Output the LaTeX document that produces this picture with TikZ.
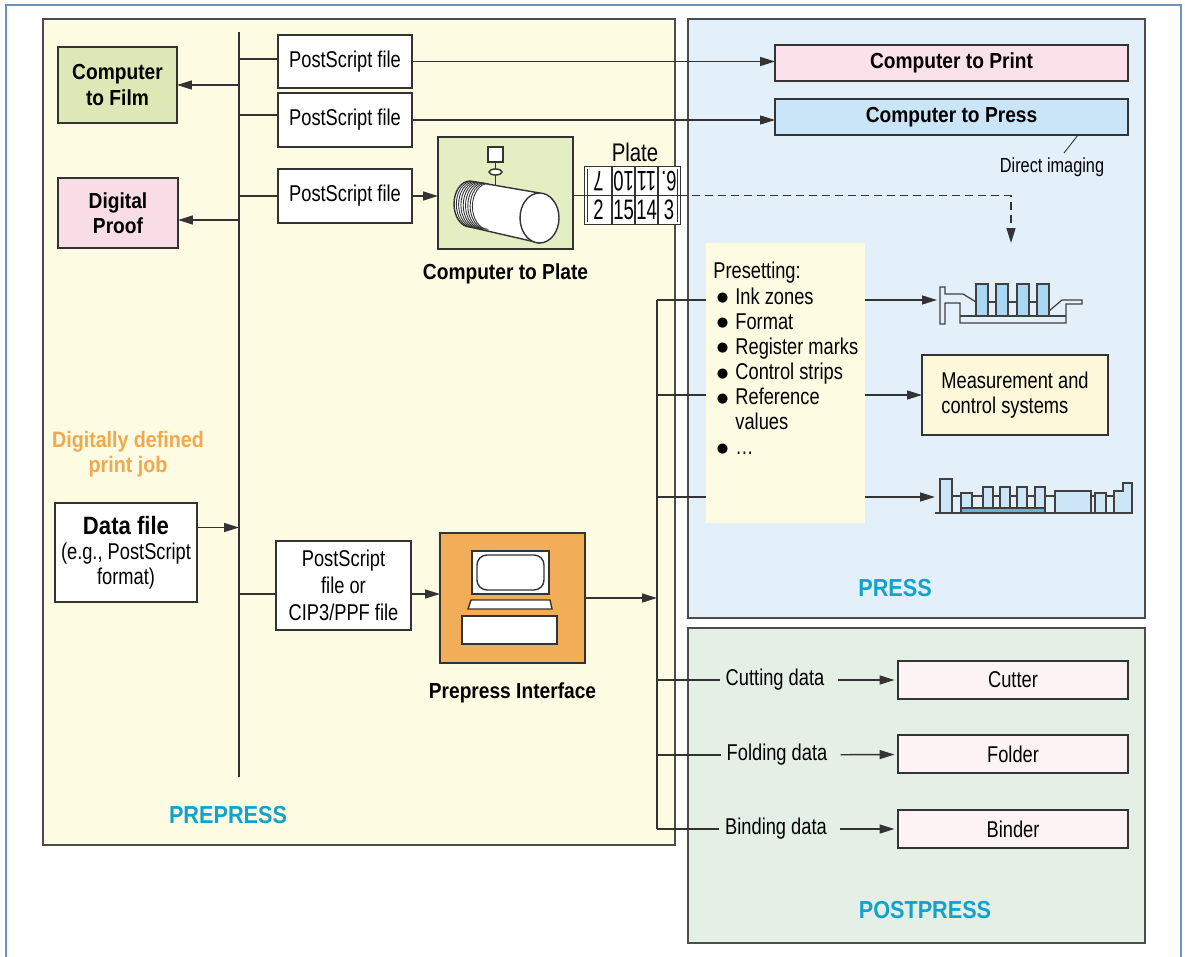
\documentclass[tikz,border=0pt]{standalone}
\usepackage{fontspec}
\setmainfont{Liberation Sans}[FakeStretch=0.8,BoldFeatures={FakeStretch=0.88}]
\newfontfamily\dotfont{DejaVu Sans}
\usetikzlibrary{arrows.meta,positioning,calc}

\definecolor{framecol}{HTML}{6E93B4}
\definecolor{linegray}{HTML}{333333}
\definecolor{prefill}{HTML}{FDFBE2}
\definecolor{pressfill}{HTML}{E3F0FA}
\definecolor{postfill}{HTML}{E4EFE6}
\definecolor{filmgreen}{HTML}{DCE9B6}
\definecolor{ctpgreen}{HTML}{E4EEC2}
\definecolor{proofpink}{HTML}{F8DCE6}
\definecolor{printpink}{HTML}{FBE1E9}
\definecolor{presscyan}{HTML}{C9E5F7}
\definecolor{measyellow}{HTML}{FDF8DA}
\definecolor{piorange}{HTML}{F2AD59}
\definecolor{cutpink}{HTML}{FDF2F4}
\definecolor{phaseblue}{HTML}{12A2CC}
\definecolor{joborange}{HTML}{F2A84E}
\definecolor{machblue}{HTML}{A8D8F3}
\definecolor{machlight}{HTML}{CDE6F7}
\definecolor{machbar}{HTML}{5CB8E6}

\newcommand\regtext{\fontsize{13}{14.3}\selectfont}
\newcommand\boldtext{\fontsize{12.4}{14.3}\selectfont\bfseries}
\newcommand\phasetext{\fontsize{14}{16}\selectfont\bfseries}
\newcommand\itemdot{\hspace{2pt}\raisebox{1.3pt}{\dotfont\fontsize{7.5}{8}\selectfont ●}\hspace{4pt}}

\begin{document}
\begin{tikzpicture}[
    x=0.02cm, y=-0.02cm,
    >={Triangle[length=0.3cm,width=0.18cm]},
    font=\regtext,
    lin/.style={draw=linegray, line width=0.8pt},
    arr/.style={lin, ->},
    box/.style={draw=linegray, line width=0.8pt, fill=#1, inner sep=1pt,
                align=center, outer sep=0pt},
    box/.default=white,
    panel/.style={draw=black!70, line width=0.9pt, fill=#1, inner sep=0pt,
                  outer sep=0pt},
    title/.style={font=\boldtext, align=center},
    phase/.style={font=\phasetext, text=phaseblue},
    machine/.style={draw=black!75, line width=0.7pt},
    cell/.style={font=\fontsize{16}{17}\selectfont, inner sep=0pt, transform shape, xscale=0.82},
  ]
  \useasboundingbox (0,0) rectangle (1185,956);
  \draw[framecol, line width=0.8pt] (6,5) rectangle (1181,1000);

  % the three stages
  \node[panel=prefill, minimum width=12.64cm, minimum height=16.52cm] (prepress) at (359,432) {};
  \node[panel=pressfill, minimum width=9.14cm, minimum height=11.98cm] (press) at (916.5,318.5) {};
  \node[panel=postfill, minimum width=9.14cm, minimum height=6.3cm] (postpress) at (916.5,785.5) {};
  \node[phase] (prelbl) at (228,815) {PREPRESS};
  \node[phase] (presslbl) at (895,588) {PRESS};
  \node[phase] (postlbl) at (925,910) {POSTPRESS};

  % data bus
  \coordinate (bustop) at (239,32);
  \coordinate (busbot) at (239,777);
  \draw[lin] (bustop) -- (busbot);

  \node[font=\fontsize{12.7}{14.3}\selectfont\bfseries, text=joborange, align=center]
    (job) at (128,454) {Digitally defined\\print job};

  \node[box=filmgreen, title, minimum width=2.38cm, minimum height=1.52cm] (film) at (117.5,85) {Computer\\to Film};
  \node[box=proofpink, title, minimum width=2.4cm, minimum height=1.4cm] (proof) at (118,213) {Digital\\Proof};
  \node[box, minimum width=2.84cm, minimum height=1.98cm] (data) at (126,552.5)
    {{\fontsize{14.3}{16}\selectfont\bfseries Data file}\\(e.g., PostScript\\format)};

  \node[box, minimum width=2.68cm, minimum height=1.06cm] (ps1) at (345,61.5) {PostScript file};
  \node[box, minimum width=2.68cm, minimum height=1.08cm] (ps2) at (345,120) {PostScript file};
  \node[box, minimum width=2.68cm, minimum height=1.08cm] (ps3) at (345,196) {PostScript file};
  \node[box, font=\fontsize{13}{15.2}\selectfont, minimum width=2.7cm, minimum height=1.78cm] (ps4) at (343.5,585.5)
    {PostScript\\file or\\CIP3/PPF file};

  \draw[arr] (film.east -| bustop) -- (film.east);
  \draw[arr] ([yshift=-0.14cm]proof.east -| bustop) -- ([yshift=-0.14cm]proof.east);
  \draw[lin] ([yshift=0.05cm]ps1.west -| bustop) -- ([yshift=0.05cm]ps1.west);
  \draw[lin] ([yshift=0.1cm]ps2.west -| bustop) -- ([yshift=0.1cm]ps2.west);
  \draw[lin] (ps3.west -| bustop) -- (ps3.west);
  \draw[arr] ([yshift=0.5cm]data.east) -- ([yshift=0.5cm]data.east -| bustop);
  \draw[lin] ([yshift=-0.17cm]ps4.west -| bustop) -- ([yshift=-0.17cm]ps4.west);

  % computer to print / press
  \node[box=printpink, title, minimum width=7.06cm, minimum height=0.72cm] (print) at (951.5,63) {Computer to Print};
  \node[box=presscyan, title, minimum width=7.06cm, minimum height=0.72cm] (direct) at (951.5,117) {Computer to Press};
  \node[font=\fontsize{11.6}{13}\selectfont] (dimg) at (1052,167) {Direct imaging};
  \draw[lin, line width=0.5pt] (1078,0 |- direct.south) -- (1064,153);
  \draw[arr] (ps1.east) -- (ps1.east -| print.west);
  \draw[arr] (ps2.east) -- (ps2.east -| direct.west);

  % computer to plate
  \node[box=ctpgreen, minimum width=2.7cm, minimum height=2.24cm] (ctp) at (505.5,193) {};
  \node[title, below=0.18cm of ctp] (ctplbl) {Computer to Plate};
  \draw[arr] (ps3.east) -- (ps3.east -| ctp.west);
  \draw[lin, fill=white] (488,147) rectangle (503,162);
  \draw[lin] (495.5,162) -- (495.5,169) (495.5,175) -- (495.5,185);
  \draw[lin, fill=white] (495.5,172) ellipse [x radius=0.13cm, y radius=0.06cm];
  \draw[lin, fill=white] (470,227) arc[start angle=270, end angle=90, x radius=0.32cm, y radius=0.46cm]
    -- (539.5,193) -- (539.5,243) -- cycle;
  \foreach \i in {1,...,8}
    \draw[linegray, line width=0.5pt] ({470+2.3*\i},{227+0.3*\i})
      arc[start angle=270, end angle=90, x radius=0.32cm, y radius=0.46cm];
  \draw[lin, fill=white] (539.5,218) ellipse [x radius=0.39cm, y radius=0.5cm];

  % imposed plate
  \node (platelbl) at (635,152) {\fontsize{14.5}{16}\selectfont Plate};
  \node[draw=linegray, line width=0.5pt, double, double distance=0.04cm, fill=white,
        minimum width=1.86cm, minimum height=1.12cm, inner sep=0pt] (plate) at (632.5,195.5) {};
  \foreach \x in {612,635,658}
    \draw[linegray, line width=0.6pt] (\x,0 |- plate.north) -- (\x,0 |- plate.south);
  \draw[linegray, line width=0.6pt] (plate.west) -- (plate.east);
  \foreach \x/\n [count=\i] in {598.5/7,623.5/10,646.5/11,669/6.}
    \node[cell, rotate=180] (top\i) at (\x,181.5) {\n};
  \foreach \x/\n [count=\i] in {598.5/2,623.5/15,646.5/14,669/3}
    \node[cell] (bot\i) at (\x,210) {\n};
  \draw[lin] (plate.west -| ctp.east) -- (plate.west);
  \coordinate (platedrop) at (1011,243);
  \draw[arr, dash pattern=on 0.16cm off 0.1cm] (plate.east) -- (platedrop |- plate.east) -- (platedrop);

  % prepress interface
  \node[box=piorange, minimum width=2.9cm, minimum height=2.6cm] (pi) at (512.5,598) {};
  \node[title, below=0.28cm of pi] (pilbl) {Prepress Interface};
  \draw[arr] ([yshift=-0.17cm]ps4.east) -- ([yshift=-0.17cm]ps4.east -| pi.west);
  \draw[lin, fill=white] (472,551) rectangle (549,594);
  \draw[lin, fill=white, rounded corners=0.2cm] (477,555) rectangle (544,590);
  \draw[lin, fill=white] (471,600) -- (550,600) -- (552,609) -- (468,609) -- cycle;
  \draw[lin, fill=white] (462,616) rectangle (557,644);

  % distribution to press and postpress
  \coordinate (disttop) at (657,300);
  \coordinate (distbot) at (657,829);
  \draw[lin] (disttop) -- (distbot);
  \draw[arr] (pi.east) -- (pi.east -| disttop);

  \node[fill=prefill, minimum width=3.18cm, minimum height=5.6cm, inner sep=0pt] (preset) at (785.5,383) {};
  \node[anchor=north west, align=left, inner sep=0pt] (presettxt) at (713,262)
    {Presetting:\\
     \itemdot Ink zones\\
     \itemdot Format\\
     \itemdot Register marks\\
     \itemdot Control strips\\
     \itemdot Reference\\
     \phantom{\itemdot}values\\
     \itemdot\dots};

  \node[box=measyellow, align=left, minimum width=3.72cm, minimum height=1.6cm] (meas) at (1015,395)
    {Measurement and\\control systems};

  \coordinate (inkrow) at (657,300);
  \coordinate (measrow) at (657,395);
  \coordinate (machrow) at (657,497);
  \coordinate (pressA) at (937,300);
  \coordinate (pressB) at (935,497);
  \draw[lin] (inkrow) -- (inkrow -| preset.west);
  \draw[lin] (measrow) -- (measrow -| preset.west);
  \draw[lin] (machrow) -- (machrow -| preset.west);
  \draw[arr] (inkrow -| preset.east) -- (pressA);
  \draw[arr] (measrow -| preset.east) -- (meas.west);
  \draw[arr] (machrow -| preset.east) -- (pressB);

  % sheetfed press, first sketch
  \draw[machine] (976,302) -- (963,294) -- (945,294) -- (945,287) -- (940,287) -- (940,324)
    -- (945,324) -- (945,303) -- (960,303) -- (960,323) -- (1066,323) -- (1066,304)
    -- (1082,304) -- (1082,300) -- (1062,300) -- (1049,311);
  \draw[machine] (960,316) -- (1066,316);
  \draw[machine] (988,302) -- (996,302) (1008,302) -- (1017,302) (1028,302) -- (1037,302);
  \foreach \x in {976,996,1017,1037}
    \draw[machine, fill=machblue] (\x,284) rectangle ++(12,32);

  % sheetfed press, second sketch
  \draw[machine] (952,496) -- (1114,496);
  \draw[machine, fill=machlight] (940,479) rectangle (952,513);
  \draw[machine, fill=machlight] (961,493) rectangle (972,508);
  \foreach \x in {983,1000,1017,1035}
    \draw[machine, fill=machlight] (\x,487) rectangle ++(10,21);
  \draw[machine, fill=machbar] (961,508) rectangle (1045,513);
  \draw[machine, fill=machlight] (1055,491) rectangle (1091,513);
  \draw[machine, fill=machlight] (1095,493) rectangle (1106,513);
  \draw[machine, fill=machlight] (1114,513) -- (1114,491) -- (1123,491) -- (1123,483)
    -- (1132,483) -- (1132,513) -- cycle;
  \draw[machine, line width=1pt] (935,513) -- (1133,513);

  % postpress
  \node (cutlbl) at (775,680) {Cutting data};
  \node (foldlbl) at (777,755) {Folding data};
  \node (bindlbl) at (776,829) {Binding data};
  \node[box=cutpink, minimum width=4.6cm, minimum height=0.76cm] (cutter) at (1013,680) {Cutter};
  \node[box=cutpink, minimum width=4.6cm, minimum height=0.76cm] (folder) at (1013,754) {Folder};
  \node[box=cutpink, minimum width=4.6cm, minimum height=0.76cm] (binder) at (1013,829) {Binder};
  \draw[lin] (distbot |- cutlbl) -- (cutlbl.west);
  \draw[lin] (distbot |- foldlbl) -- (foldlbl.west);
  \draw[lin] (distbot) -- (bindlbl.west);
  \draw[arr, shorten <=4pt, shorten >=2pt] (cutlbl) -- (cutter);
  \draw[arr, shorten <=4pt, shorten >=2pt] (foldlbl) -- (folder);
  \draw[arr, shorten <=4pt, shorten >=2pt] (bindlbl) -- (binder);
\end{tikzpicture}
\end{document}
